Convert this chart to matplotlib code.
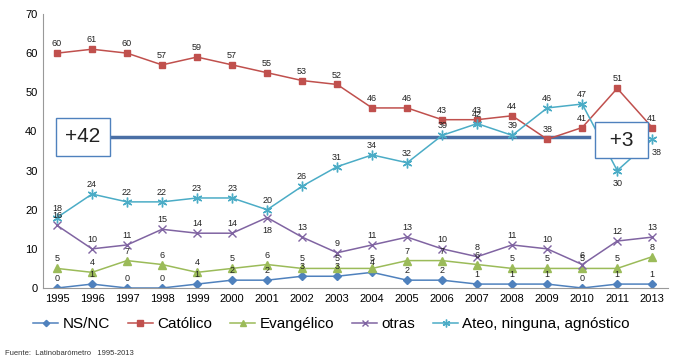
import numpy as np
import matplotlib.pyplot as plt

plt.rcParams['font.family'] = ['Liberation Sans', 'DejaVu Sans']

years = ['1995', '1996', '1997', '1998', '1999', '2000', '2001', '2002', '2003',
         '2004', '2005', '2006', '2007', '2008', '2009', '2010', '2011', '2013']
ns_nc = [0, 1, 0, 0, 1, 2, 2, 3, 3, 4, 2, 2, 1, 1, 1, 0, 1, 1]
catolico = [60, 61, 60, 57, 59, 57, 55, 53, 52, 46, 46, 43, 43, 44, 38, 41, 51, 41]
evangelico = [5, 4, 7, 6, 4, 5, 6, 5, 5, 5, 7, 7, 6, 5, 5, 5, 5, 8]
otras = [16, 10, 11, 15, 14, 14, 18, 13, 9, 11, 13, 10, 8, 11, 10, 6, 12, 13]
ateo = [18, 24, 22, 22, 23, 23, 20, 26, 31, 34, 32, 39, 42, 39, 46, 47, 30, 38]

series = [
    ('NS/NC', ns_nc, '#4F81BD', 'D', 4),
    ('Católico', catolico, '#C0504D', 's', 5),
    ('Evangélico', evangelico, '#9BBB59', '^', 6),
    ('otras', otras, '#8064A2', 'x', 6),
    ('Ateo, ninguna, agnóstico', ateo, '#4BACC6', (6, 2, 0), 7),
]
# labels that sit below the point instead of above
below = {('otras', 6), ('Ateo, ninguna, agnóstico', 16), ('Ateo, ninguna, agnóstico', 17)}

fig = plt.figure(figsize=(6.77, 3.64), dpi=100)
ax = fig.add_axes([43 / 677, 76 / 364, 625 / 677, 274 / 364])
x = np.arange(len(years))

for name, vals, col, mk, ms in series:
    ax.plot(x, vals, color=col, marker=mk, markersize=ms, linewidth=1.1,
            markeredgewidth=1.0, label=name)
    for i, v in enumerate(vals):
        if (name, i) in below:
            ax.annotate(str(v), (i, v), xytext=(3 if i == 17 else 0, -11),
                        textcoords='offset points', ha='center', fontsize=6.5,
                        color='#222222')
        else:
            ax.annotate(str(v), (i, v), xytext=(0, 5), textcoords='offset points',
                        ha='center', fontsize=6.5, color='#222222')

# difference line and boxes
ax.plot([0.6, 15.2], [38.5, 38.5], color='#4A6FA5', linewidth=2.5, zorder=1)
ax.text(0.74, 38.6, '+42', fontsize=15, ha='center', va='center', color='#222222',
        bbox=dict(boxstyle='square,pad=0.45', facecolor='white', edgecolor='#4F81BD'))
ax.text(16.12, 37.8, ' +3 ', fontsize=15, ha='center', va='center', color='#222222',
        bbox=dict(boxstyle='square,pad=0.42', facecolor='white', edgecolor='#4F81BD'))

ax.set_xlim(-0.4, 17.45)
ax.set_ylim(0, 70)
ax.set_yticks(range(0, 71, 10))
ax.set_xticks(x)
ax.set_xticklabels(years)
ax.tick_params(labelsize=8, length=0, pad=4)
for s in ['top', 'right']:
    ax.spines[s].set_visible(False)
for s in ['left', 'bottom']:
    ax.spines[s].set_color('#999999')

fig.legend(loc='center', bbox_to_anchor=(0.49, 0.11), ncol=5, frameon=False,
           fontsize=11, handlelength=1.6, handletextpad=0.3, columnspacing=1.2,
           markerscale=0.8)
fig.text(0.008, 0.025, 'Fuente:  Latinobarómetro   1995-2013', fontsize=5.5, color='#333333')

fig.savefig('out.png', dpi=100)
